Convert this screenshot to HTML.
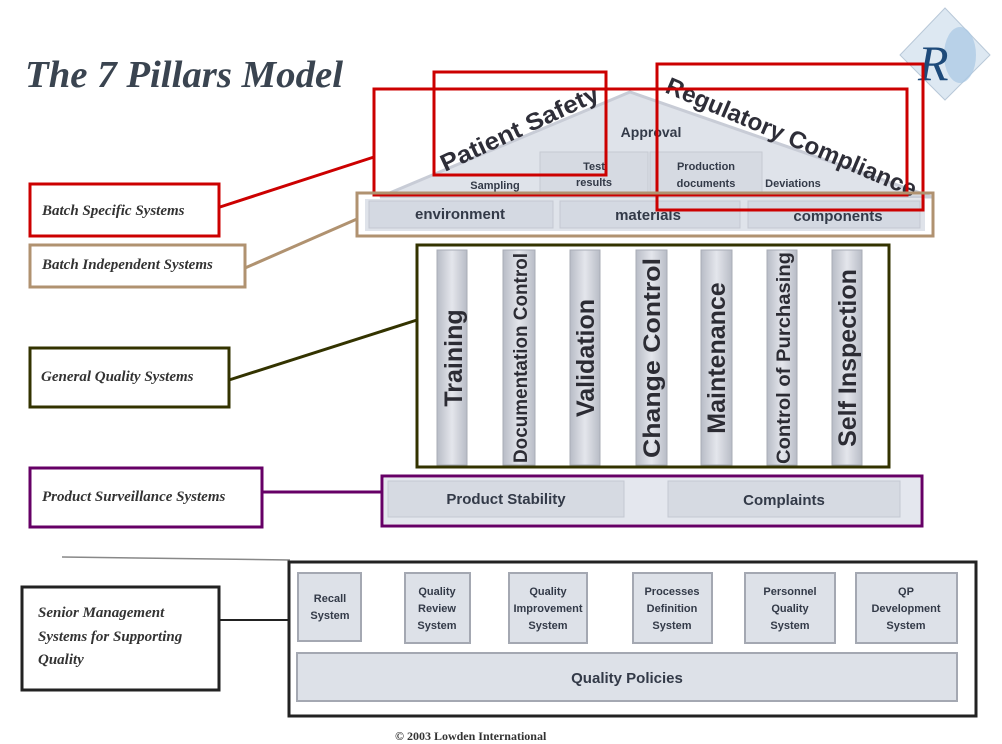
<!DOCTYPE html>
<html><head><meta charset="utf-8"><style>
html,body{margin:0;padding:0;background:#fff}
svg{display:block}
.s{font-family:"Liberation Serif",serif;font-style:italic;font-weight:bold;fill:#333;}
.a{font-family:"Liberation Sans",sans-serif;font-weight:bold;fill:#333a48;}
</style></head><body>
<svg width="1002" height="744" viewBox="0 0 1002 744" xmlns="http://www.w3.org/2000/svg">
<defs>
<linearGradient id="pg" x1="0" x2="1" y1="0" y2="0">
<stop offset="0" stop-color="#b8bcc6"/><stop offset="0.5" stop-color="#e4e6ec"/><stop offset="1" stop-color="#b8bcc6"/>
</linearGradient>
</defs>
<rect width="1002" height="744" fill="#fff"/>
<text x="25" y="87" class="s" font-size="38" textLength="318" lengthAdjust="spacingAndGlyphs" style="fill:#3a4450">The 7 Pillars Model</text>
<polygon points="945,8 990,55 945,100 900,55" fill="#dde8f2" stroke="#b8c8d8"/>
<ellipse cx="960" cy="55" rx="16" ry="28" fill="#a8c8e4" opacity="0.7"/>
<text x="918" y="80" font-family="Liberation Serif,serif" font-style="italic" font-size="50" fill="#1d4a7a">R</text>
<polygon points="380,197 630,92 932,197" fill="#dfe3ea" stroke="#c8ccd6" stroke-width="3"/>
<rect x="540" y="152" width="108" height="40" fill="#d6dae2" stroke="#c6cad2"/>
<rect x="650" y="152" width="112" height="40" fill="#d6dae2" stroke="#c6cad2"/>
<text x="651" y="137" class="a" font-size="14" text-anchor="middle">Approval</text>
<text x="495" y="189" class="a" font-size="11" text-anchor="middle">Sampling</text>
<text x="594" y="170" class="a" font-size="11" text-anchor="middle">Test</text>
<text x="594" y="186" class="a" font-size="11" text-anchor="middle">results</text>
<text x="706" y="170" class="a" font-size="11" text-anchor="middle">Production</text>
<text x="706" y="187" class="a" font-size="11" text-anchor="middle">documents</text>
<text x="793" y="187" class="a" font-size="11" text-anchor="middle">Deviations</text>
<text transform="translate(445,172) rotate(-25)" class="a" font-size="24" textLength="172" lengthAdjust="spacingAndGlyphs" style="fill:#2e2e38">Patient Safety</text>
<text transform="translate(664,92) rotate(23)" class="a" font-size="24" textLength="270" lengthAdjust="spacingAndGlyphs" style="fill:#2e2e38">Regulatory Compliance</text>
<rect x="365" y="199" width="560" height="32" fill="#dfe3ea"/>
<rect x="369" y="201" width="184" height="27" fill="#d4d9e2" stroke="#c4c8d2"/>
<rect x="560" y="201" width="180" height="27" fill="#d4d9e2" stroke="#c4c8d2"/>
<rect x="748" y="201" width="172" height="27" fill="#d4d9e2" stroke="#c4c8d2"/>
<text x="460" y="219" class="a" font-size="15" text-anchor="middle">environment</text>
<text x="648" y="220" class="a" font-size="15" text-anchor="middle">materials</text>
<text x="838" y="221" class="a" font-size="15" text-anchor="middle">components</text>
<g fill="none" stroke="#cc0000" stroke-width="3">
<rect x="374" y="89" width="533" height="106"/>
<rect x="434" y="72" width="172" height="103"/>
<rect x="657" y="64" width="266" height="146"/>
<rect x="30" y="184" width="189" height="52"/>
<line x1="220" y1="207" x2="374" y2="157"/>
</g>
<g fill="none" stroke="#b09270" stroke-width="3">
<rect x="357" y="193" width="576" height="43"/>
<rect x="30" y="245" width="215" height="42"/>
<line x1="245" y1="268" x2="357" y2="219"/>
</g>
<g stroke="#a8acb6" fill="url(#pg)">
<rect x="437" y="250" width="30" height="215"/>
<rect x="503" y="250" width="32" height="215"/>
<rect x="570" y="250" width="30" height="215"/>
<rect x="636" y="250" width="31" height="215"/>
<rect x="701" y="250" width="31" height="215"/>
<rect x="767" y="250" width="30" height="215"/>
<rect x="832" y="250" width="30" height="215"/>
</g>
<g class="a" text-anchor="middle" style="fill:#2c2c34">
<text transform="translate(462,358) rotate(-90)" font-size="25">Training</text>
<text transform="translate(527,358) rotate(-90)" font-size="19" textLength="210" lengthAdjust="spacingAndGlyphs">Documentation Control</text>
<text transform="translate(594,358) rotate(-90)" font-size="25">Validation</text>
<text transform="translate(660,358) rotate(-90)" font-size="24" textLength="200" lengthAdjust="spacingAndGlyphs">Change Control</text>
<text transform="translate(725,358) rotate(-90)" font-size="25">Maintenance</text>
<text transform="translate(790,358) rotate(-90)" font-size="19" textLength="212" lengthAdjust="spacingAndGlyphs">Control of Purchasing</text>
<text transform="translate(856,358) rotate(-90)" font-size="25">Self Inspection</text>
</g>
<g fill="none" stroke="#333300" stroke-width="3">
<rect x="417" y="245" width="472" height="222"/>
<rect x="30" y="348" width="199" height="59"/>
<line x1="229" y1="380" x2="417" y2="320"/>
</g>
<rect x="384" y="478" width="536" height="46" fill="#e4e7ee"/>
<rect x="388" y="481" width="236" height="36" fill="#d6dae2" stroke="#c4c8d2"/>
<rect x="668" y="481" width="232" height="36" fill="#d6dae2" stroke="#c4c8d2"/>
<text x="506" y="504" class="a" font-size="15" text-anchor="middle">Product Stability</text>
<text x="784" y="505" class="a" font-size="15" text-anchor="middle">Complaints</text>
<g fill="none" stroke="#660066" stroke-width="3">
<rect x="382" y="476" width="540" height="50"/>
<rect x="30" y="468" width="232" height="59"/>
<line x1="262" y1="492" x2="382" y2="492"/>
</g>
<line x1="62" y1="557" x2="290" y2="560" stroke="#888" stroke-width="1.5"/>
<rect x="289" y="562" width="687" height="154" fill="#fff" stroke="#222" stroke-width="3"/>
<g fill="#dde1e8" stroke="#a4a8b2" stroke-width="2">
<rect x="298" y="573" width="63" height="68"/>
<rect x="405" y="573" width="65" height="70"/>
<rect x="509" y="573" width="78" height="70"/>
<rect x="633" y="573" width="79" height="70"/>
<rect x="745" y="573" width="90" height="70"/>
<rect x="856" y="573" width="101" height="70"/>
<rect x="297" y="653" width="660" height="48"/>
</g>
<g class="a" font-size="11" text-anchor="middle">
<text x="330" y="602">Recall</text><text x="330" y="619">System</text>
<text x="437" y="595">Quality</text><text x="437" y="612">Review</text><text x="437" y="629">System</text>
<text x="548" y="595">Quality</text><text x="548" y="612">Improvement</text><text x="548" y="629">System</text>
<text x="672" y="595">Processes</text><text x="672" y="612">Definition</text><text x="672" y="629">System</text>
<text x="790" y="595">Personnel</text><text x="790" y="612">Quality</text><text x="790" y="629">System</text>
<text x="906" y="595">QP</text><text x="906" y="612">Development</text><text x="906" y="629">System</text>
<text x="627" y="683" font-size="15">Quality Policies</text>
</g>
<rect x="22" y="587" width="197" height="103" fill="#fff" stroke="#222" stroke-width="3"/>
<line x1="219" y1="620" x2="289" y2="620" stroke="#222" stroke-width="2"/>
<g class="s" font-size="15">
<text x="42" y="215">Batch Specific Systems</text>
<text x="42" y="269">Batch Independent Systems</text>
<text x="41" y="381">General Quality Systems</text>
<text x="42" y="501">Product Surveillance Systems</text>
<text x="38" y="617">Senior Management</text>
<text x="38" y="641">Systems for Supporting</text>
<text x="38" y="664">Quality</text>
</g>
<text x="395" y="740" font-family="Liberation Serif,serif" font-weight="bold" font-size="12" fill="#333">© 2003 Lowden International</text>
</svg>
</body></html>
